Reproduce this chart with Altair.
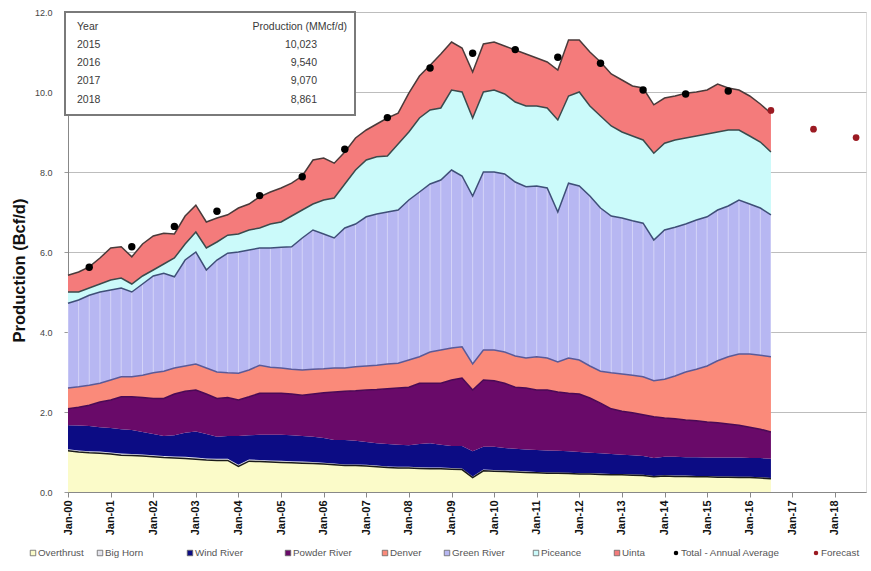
import altair as alt
import pandas as pd

FONT = "Liberation Sans"

# Quarterly production by basin, Bcf/d (Jan-2000 .. Jul-2016)
dates = pd.date_range("2000-01-01", periods=67, freq="QS").strftime("%Y-%m-%d").tolist()

overthrust = [1.03, 1.00, 0.98, 0.97, 0.95, 0.92, 0.91, 0.90, 0.88, 0.86, 0.85, 0.84,
              0.82, 0.80, 0.79, 0.79, 0.64, 0.77, 0.76, 0.75, 0.74, 0.73, 0.72, 0.71,
              0.70, 0.68, 0.66, 0.66, 0.65, 0.63, 0.61, 0.60, 0.60, 0.59, 0.58, 0.58,
              0.57, 0.56, 0.36, 0.53, 0.52, 0.51, 0.50, 0.49, 0.48, 0.47, 0.47, 0.46,
              0.45, 0.45, 0.44, 0.43, 0.43, 0.42, 0.41, 0.38, 0.40, 0.39, 0.39, 0.38,
              0.38, 0.37, 0.37, 0.36, 0.36, 0.35, 0.33]
big_horn = [0.04, 0.04, 0.04, 0.04, 0.04, 0.04, 0.04, 0.04, 0.04, 0.04, 0.04, 0.04,
            0.04, 0.04, 0.04, 0.04, 0.04, 0.04, 0.04, 0.04, 0.04, 0.04, 0.04, 0.04,
            0.03, 0.03, 0.03, 0.03, 0.03, 0.03, 0.03, 0.03, 0.03, 0.03, 0.03, 0.03,
            0.03, 0.03, 0.03, 0.03, 0.03, 0.03, 0.03, 0.03, 0.02, 0.02, 0.02, 0.02,
            0.02, 0.02, 0.02, 0.02, 0.02, 0.02, 0.02, 0.02, 0.02, 0.02, 0.02, 0.02,
            0.02, 0.02, 0.02, 0.02, 0.02, 0.02, 0.02]
wind_river = [0.60, 0.62, 0.63, 0.61, 0.61, 0.61, 0.60, 0.56, 0.53, 0.50, 0.53, 0.60,
              0.65, 0.61, 0.55, 0.57, 0.72, 0.61, 0.63, 0.64, 0.65, 0.65, 0.64, 0.63,
              0.62, 0.59, 0.61, 0.59, 0.57, 0.56, 0.56, 0.55, 0.54, 0.58, 0.61, 0.57,
              0.55, 0.56, 0.63, 0.57, 0.58, 0.56, 0.55, 0.54, 0.55, 0.55, 0.54, 0.54,
              0.53, 0.51, 0.51, 0.50, 0.48, 0.48, 0.47, 0.45, 0.46, 0.47, 0.46, 0.47,
              0.46, 0.47, 0.47, 0.48, 0.47, 0.48, 0.48]
powder_river = [0.41, 0.46, 0.52, 0.63, 0.70, 0.81, 0.83, 0.86, 0.89, 0.94, 1.03, 1.04,
                1.04, 1.00, 0.96, 0.96, 0.90, 0.96, 1.04, 1.04, 1.04, 1.03, 1.02, 1.07,
                1.13, 1.20, 1.22, 1.25, 1.30, 1.34, 1.38, 1.42, 1.45, 1.52, 1.50, 1.54,
                1.65, 1.70, 1.53, 1.67, 1.65, 1.62, 1.54, 1.54, 1.50, 1.51, 1.47, 1.45,
                1.45, 1.37, 1.25, 1.13, 1.09, 1.06, 1.03, 1.03, 0.97, 0.95, 0.93, 0.91,
                0.89, 0.87, 0.84, 0.81, 0.77, 0.72, 0.67]
denver = [0.52, 0.51, 0.50, 0.47, 0.50, 0.50, 0.50, 0.56, 0.64, 0.68, 0.65, 0.63,
          0.65, 0.65, 0.66, 0.62, 0.67, 0.67, 0.70, 0.65, 0.63, 0.62, 0.63, 0.62,
          0.60, 0.60, 0.58, 0.60, 0.60, 0.61, 0.62, 0.62, 0.68, 0.66, 0.78, 0.83,
          0.80, 0.78, 0.65, 0.75, 0.77, 0.78, 0.78, 0.75, 0.83, 0.80, 0.75, 0.88,
          0.85, 0.80, 0.80, 0.90, 0.93, 0.94, 0.95, 0.90, 0.97, 1.07, 1.20, 1.29,
          1.40, 1.55, 1.68, 1.78, 1.83, 1.85, 1.88]
green_river = [2.12, 2.17, 2.25, 2.28, 2.25, 2.22, 2.12, 2.28, 2.42, 2.45, 2.28, 2.65,
               2.80, 2.45, 2.80, 2.99, 3.03, 3.00, 2.93, 2.98, 3.02, 3.06, 3.30, 3.48,
               3.37, 3.25, 3.50, 3.57, 3.73, 3.78, 3.80, 3.83, 4.00, 4.12, 4.20, 4.25,
               4.45, 4.27, 4.20, 4.45, 4.45, 4.45, 4.35, 4.28, 4.27, 4.25, 3.75, 4.37,
               4.35, 4.25, 4.08, 3.92, 3.90, 3.86, 3.84, 3.52, 3.73, 3.72, 3.70, 3.73,
               3.73, 3.77, 3.77, 3.85, 3.75, 3.68, 3.55]
piceance = [0.28, 0.20, 0.18, 0.20, 0.25, 0.25, 0.20, 0.20, 0.15, 0.23, 0.47, 0.40,
            0.50, 0.55, 0.45, 0.45, 0.45, 0.50, 0.50, 0.60, 0.63, 0.77, 0.70, 0.65,
            0.85, 1.00, 1.10, 1.35, 1.42, 1.43, 1.40, 1.65, 1.70, 1.85, 1.85, 1.80,
            2.00, 2.10, 1.95, 2.00, 2.05, 2.00, 2.00, 2.02, 2.00, 2.00, 2.30, 2.18,
            2.35, 2.25, 2.30, 2.25, 2.15, 2.12, 2.08, 2.17, 2.17, 2.18, 2.15, 2.10,
            2.07, 1.95, 1.90, 1.75, 1.70, 1.65, 1.57]
uinta = [0.42, 0.50, 0.53, 0.65, 0.80, 0.78, 0.68, 0.80, 0.85, 0.77, 0.60, 0.70,
         0.67, 0.65, 0.60, 0.51, 0.65, 0.65, 0.78, 0.80, 0.85, 0.82, 0.85, 1.10,
         1.05, 0.87, 0.80, 0.80, 0.75, 0.82, 0.95, 0.77, 0.97, 1.05, 1.12, 1.35,
         1.20, 1.10, 1.15, 1.20, 1.20, 1.20, 1.30, 1.30, 1.20, 1.15, 1.25, 1.40,
         1.30, 1.35, 1.35, 1.30, 1.30, 1.25, 1.30, 1.21, 1.13, 1.10, 1.12, 1.10,
         1.10, 1.20, 1.05, 1.00, 1.00, 0.95, 0.97]

basins = ["Overthrust", "Big Horn", "Wind River", "Powder River",
          "Denver", "Green River", "Piceance", "Uinta"]
basin_series = [overthrust, big_horn, wind_river, powder_river,
                denver, green_river, piceance, uinta]
fill_colors = ["#FBFBC9", "#E4E4EC", "#0C0C84", "#690A69",
               "#FA8A7A", "#B7B7F2", "#CBFAFA", "#F47B7B"]
edge_colors = ["#1A1A1A", "#1A1A1A", "#0C0C84", "#4A0A55",
               "#5A5A98", "#3F4F78", "#3A4A4C", "#4A3A3A"]

# Total - annual average (Bcf/d), plotted mid-year
avg_years = list(range(2000, 2016))
avg_values = [5.62, 6.13, 6.64, 7.02, 7.41, 7.88, 8.57, 9.36,
              10.60, 10.97, 11.06, 10.87, 10.72, 10.05, 9.95, 10.023]

# Summary table / forecast (MMcf/d)
table_years = ["2015", "2016", "2017", "2018"]
table_mmcfd = [10023, 9540, 9070, 8861]

rows = []
for i, (name, vals) in enumerate(zip(basins, basin_series)):
    for d, v in zip(dates, vals):
        rows.append({"date": d, "basin": name, "order": i, "value": v})
prod = pd.DataFrame(rows)

avg_df = pd.DataFrame({"date": [f"{y}-07-01" for y in avg_years], "value": avg_values})
fc_df = pd.DataFrame({"date": [f"{y}-07-01" for y in table_years[1:]],
                      "value": [v / 1000 for v in table_mmcfd[1:]]})

x_scale = alt.Scale(domain=[alt.DateTime(year=2000, month=1, date=1, utc=True),
                            alt.DateTime(year=2018, month=9, date=24, utc=True)])
y_scale = alt.Scale(domain=[0, 12], nice=False)

x_axis = alt.Axis(values=[alt.DateTime(year=y, month=1, date=1, utc=True) for y in range(2000, 2019)],
                  labelExpr="utcFormat(datum.value, '%b-%y')", labelAngle=270,
                  labelFontSize=11, labelFontWeight="bold", labelColor="#111",
                  labelPadding=3, tickSize=5, tickColor="#888", domainColor="#888",
                  grid=False, title=None, labelFont=FONT)
y_axis = alt.Axis(values=list(range(0, 13)), format=".1f", labelFontSize=9,
                  labelColor="#444", labelPadding=12, tickSize=4, tickColor="#999",
                  domainColor="#888", grid=True, gridColor="#BDBDBD", gridWidth=1.2,
                  title="Production (Bcf/d)", titleFontSize=16.5, titleFontWeight="bold",
                  titleColor="#111", titlePadding=7, titleY=258,
                  titleFont=FONT, labelFont=FONT)

stacked = alt.Chart(prod).transform_stack(
    stack="value", groupby=["date"], as_=["y0", "y1"],
    sort=[alt.SortField("order", order="ascending")]
)

areas = stacked.mark_area(interpolate="linear").encode(
    x=alt.X("date:T", scale=x_scale, axis=x_axis),
    y=alt.Y("y1:Q", scale=y_scale, axis=y_axis),
    y2=alt.Y2("y0:Q"),
    color=alt.Color("basin:N", scale=alt.Scale(domain=basins, range=fill_colors), legend=None),
)

# faint vertical striping inside the Green River band
stripes = stacked.transform_filter(alt.datum.basin == "Green River").mark_rule(
    color="white", opacity=0.45, strokeWidth=0.9
).encode(x=alt.X("date:T"), y=alt.Y("y0:Q"), y2=alt.Y2("y1:Q"))

edges = stacked.transform_filter(
    alt.FieldOneOfPredicate(field="basin", oneOf=["Overthrust", "Powder River", "Denver",
                                                  "Green River", "Piceance", "Uinta"])
).mark_line(strokeWidth=1.5, interpolate="linear").encode(
    x=alt.X("date:T"),
    y=alt.Y("y1:Q"),
    detail=alt.Detail("basin:N"),
    stroke=alt.Stroke("basin:N", scale=alt.Scale(domain=basins, range=edge_colors), legend=None),
)

end_rule = stacked.transform_filter(f"datum.date == '{dates[-1]}'").transform_aggregate(
    top="max(y1)", groupby=["date"]
).transform_calculate(base="0").mark_rule(color="#777", strokeWidth=1.2).encode(
    x=alt.X("date:T"), y=alt.Y("base:Q"), y2=alt.Y2("top:Q"))

avg_pts = alt.Chart(avg_df).mark_circle(size=55, color="#000", opacity=1).encode(
    x=alt.X("date:T"), y=alt.Y("value:Q"))
fc_pts = alt.Chart(fc_df).mark_circle(size=45, color="#9B1A22", opacity=1).encode(
    x=alt.X("date:T"), y=alt.Y("value:Q"))

one = pd.DataFrame({"k": [0]})

# Table box in the upper left of the plot
box = alt.Chart(one).mark_rect(fill="white", stroke="#7A7A7A", strokeWidth=2).encode(
    x=alt.value(-3), x2=alt.value(287), y=alt.value(0), y2=alt.value(103))

text_layers = []
def txt(x, y, s, align="left", size=10.5, color="#3A3A3A"):
    text_layers.append(
        alt.Chart(one).mark_text(align=align, baseline="middle", fontSize=size,
                                 color=color, font=FONT).encode(
            x=alt.value(x), y=alt.value(y), text=alt.value(s)))

txt(9, 15, "Year")
txt(279, 15, "Production (MMcf/d)", align="right")
for i, (yr, val) in enumerate(zip(table_years, table_mmcfd)):
    txt(9, 33 + 18.2 * i, yr)
    txt(249, 33 + 18.2 * i, f"{val:,}", align="right")

# Legend row beneath the axis
legend_items = [
    ("Overthrust", "square"), ("Big Horn", "square"), ("Wind River", "square"),
    ("Powder River", "square"), ("Denver", "square"), ("Green River", "square"),
    ("Piceance", "square"), ("Uinta", "square"),
    ("Total - Annual Average", "dot"), ("Forecast", "dot"),
]
legend_fill = fill_colors + ["#000", "#9B1A22"]
legend_x = [-35, 32, 122, 220, 317, 379, 468, 549, 608, 748]
legend_layers = []
for (label, kind), fc, lx in zip(legend_items, legend_fill, legend_x):
    if kind == "square":
        legend_layers.append(alt.Chart(one).mark_point(
            shape="square", size=30, filled=True, fill=fc, stroke="#666", strokeWidth=0.8, opacity=1
        ).encode(x=alt.value(lx), y=alt.value(541)))
    else:
        legend_layers.append(alt.Chart(one).mark_circle(size=20, color=fc, opacity=1).encode(
            x=alt.value(lx), y=alt.value(541)))
    legend_layers.append(alt.Chart(one).mark_text(
        align="left", baseline="middle", fontSize=9.8, color="#555", font=FONT
    ).encode(x=alt.value(lx + 5), y=alt.value(541), text=alt.value(label)))

chart = alt.layer(
    areas, stripes, edges, end_rule, avg_pts, fc_pts, box, *text_layers, *legend_layers
).properties(
    width=798, height=480,
    autosize=alt.AutoSizeParams(type="none"),
    padding={"left": 68, "top": 12, "right": 5, "bottom": 79},
).configure_view(stroke=None).configure(font=FONT)

chart.save("out.html", embed_options={"renderer": "svg", "actions": False})
